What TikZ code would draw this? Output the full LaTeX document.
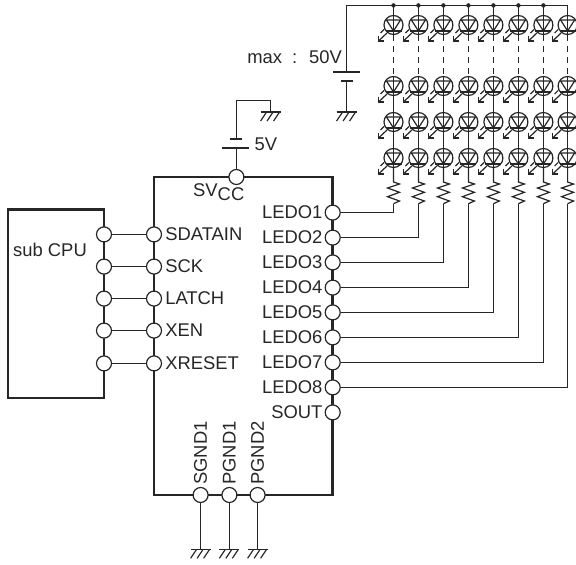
\documentclass[tikz,border=0pt]{standalone}
\usepackage{fontspec}
\setmainfont{Liberation Sans}
\usetikzlibrary{positioning}
\tikzset{
  wire/.style={line width=1.2pt, black!85},
  box/.style={line width=2.6pt, black!85},
  pin/.style={circle, draw=black!85, line width=1.2pt, fill=white, inner sep=0pt, minimum size=15pt},
  ledbody/.style={circle, draw=black!85, line width=1.2pt, inner sep=0pt, minimum size=19pt},
  lbl/.style={inner sep=0pt, text=black!85, font=\fontsize{18.4}{21}\selectfont},
  pics/gnd/.style={code={
    \draw[wire, line width=1.5pt] (-10,0) -- (10,0);
    \foreach \h in {-4,2.5,9} \draw[wire] (\h,0) -- (\h-6,9);
  }}
}
\begin{document}
\begin{tikzpicture}[x=1pt, y=-1pt]
\useasboundingbox (0,0) rectangle (576,565);

% Boxes
\draw[box] (8,209.5) rectangle (104,398);
\draw[box] (154,177) rectangle (332.7,495);
\node[lbl, anchor=west] (subcpu) at (13,250) {sub CPU};

% Pins between sub CPU and the driver
\foreach \i/\y/\t in {1/234.4/SDATAIN,2/266.6/SCK,3/298.6/LATCH,4/330.6/XEN,5/363.4/XRESET} {
  \node[pin] (cpu\i) at (104,\y) {};
  \node[pin] (in\i) at (154,\y) {};
  \draw[wire] (cpu\i) -- (in\i);
  \node[lbl, right=3pt of in\i] (lab\i) {\t};
}

% LED strings
\foreach \c/\x in {1/393.5,2/418.4,3/443.4,4/468.4,5/493.4,6/518.4,7/543.4,8/567.6} {
  \foreach \r/\y in {1/25,2/86,3/122,4/158} {
    \begin{scope}[shift={(\x,\y)}]
    \node[ledbody] (led\r\c) at (0,0) {};
    \draw[wire] (led\r\c.north) -- (0,6);
    \draw[wire] (-7,-5) -- (7,-5) -- (0,6) -- cycle;
    \draw[wire, line width=1.5pt] (-8,6) -- (8,6);
    \draw[wire] (0,6) -- (led\r\c.south);
    \draw[wire] (-6.5,8) -- (-15,16);
    \draw[wire] (-15,10.5) -- (-15,16) -- (-9.5,16);
    \draw[wire] (-9.5,4.5) -- (-13,8);
    \end{scope}
  }
  \draw[wire, dashed, dash pattern=on 6pt off 5pt] (led1\c.south) -- (led2\c.north);
  \draw[wire] (led2\c.south) -- (led3\c.north);
  \draw[wire] (led3\c.south) -- (led4\c.north);
  % Resistor
  \coordinate (rtop\c) at (\x,182);
  \coordinate (rbot\c) at (\x,203.7);
  \draw[wire] (led4\c.south) -- (rtop\c) -- ++(6,2) -- ++(-12,4) -- ++(12,4.3) -- ++(-12,4.4) -- ++(12,4.3) -- (rbot\c);
  \coordinate (vtop\c) at (\x,5.4);
}

% LED driver outputs
\foreach \c/\y in {1/212.6,2/237.6,3/262.4,4/287.6,5/312.4,6/337.4,7/362.4,8/387.4} {
  \node[pin] (ledo\c) at (332.7,\y) {};
  \node[lbl, left=2pt of ledo\c] (ledolab\c) {LEDO\c};
  \draw[wire] (ledo\c) -| (rbot\c);
}
\node[pin] (sout) at (332.7,412.4) {};
\node[lbl, left=2pt of sout] (soutlab) {SOUT};

% LED supply
\coordinate (plus50) at (346.6,72);
\coordinate (minus50) at (346.6,81);
\coordinate (gnd50) at (346.6,112);
\draw[wire] (plus50) |- (vtop8) -- (led18.north);
\foreach \c in {1,...,7} {
  \fill[black!85] (vtop\c) circle (2.2pt);
  \draw[wire] (vtop\c) -- (led1\c.north);
}
\draw[wire, line width=1.5pt] (333,72) -- (360,72);
\draw[wire, line width=2.4pt] (341,81) -- (353,81);
\draw[wire] (minus50) -- (gnd50);
\pic at (gnd50) {gnd};
\node[lbl, anchor=east] (max50) at (342,57) {max\hspace{5pt} :\hspace{5pt} 50V};

% 5V supply
\node[pin] (svcc) at (236.4,177) {};
\coordinate (plus5) at (236.4,148);
\coordinate (minus5) at (236.4,139);
\coordinate (gnd5) at (270.6,112);
\draw[wire] (svcc) -- (plus5);
\draw[wire, line width=1.5pt] (222.3,148) -- (249,148);
\draw[wire, line width=2.4pt] (230,139) -- (242,139);
\draw[wire] (minus5) |- (270.6,100.4) -- (gnd5);
\pic at (gnd5) {gnd};
\node[lbl, anchor=west] (v5) at (254.5,144) {5V};
\node[lbl, anchor=base west] (svlab) at (193,196) {SV\raisebox{-4pt}{CC}};

% Ground pins
\foreach \n/\x/\t in {1/200.6/SGND1,2/229.4/PGND1,3/257.6/PGND2} {
  \node[pin] (gp\n) at (\x,495) {};
  \coordinate (gb\n) at (\x,549.3);
  \draw[wire] (gp\n) -- (gb\n);
  \pic at (gb\n) {gnd};
  \node[lbl, rotate=90, anchor=west] (gl\n) at (\x,485) {\t};
}

\end{tikzpicture}
\end{document}
